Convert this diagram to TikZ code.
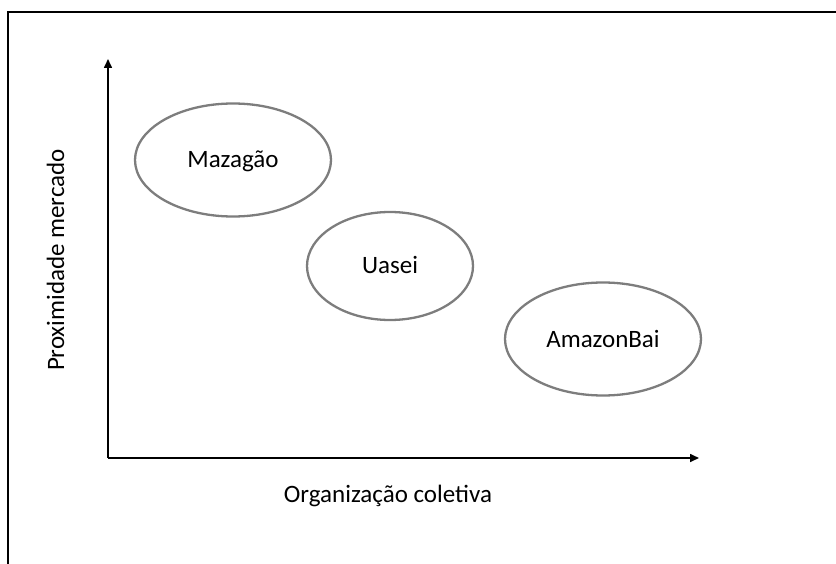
\documentclass[tikz,border=0pt]{standalone}
\usepackage{fontspec}
\setmainfont{Carlito}
\usetikzlibrary{shapes.geometric,arrows.meta}
\definecolor{ellgray}{RGB}{125,125,125}
\begin{document}
\begin{tikzpicture}[x=1pt,y=-1pt,
  frame/.style={line width=1.8pt,black},
  axis/.style={line width=1.6pt,black,-{Triangle[length=9pt,width=8pt]}},
  blob/.style={ellipse,draw=ellgray,line width=2.3pt,minimum width=196pt,minimum height=113pt,inner sep=0pt,
    text height=16pt,text depth=0pt,font=\fontsize{25}{30}\selectfont},
  axlabel/.style={inner sep=0pt,anchor=base,font=\fontsize{25}{30}\selectfont}]
\useasboundingbox (0,0) rectangle (836,564);
\draw[frame] (8,565) -- (8,12) -- (837,12);
\coordinate (o) at (108,458);
\coordinate (ytip) at (108,59);
\coordinate (xtip) at (699,458);
\draw[axis] (o) -- (ytip);
\draw[axis] (o) -- (xtip);
\node[blob] (maz) at (233,160) {Mazagão};
\node[blob,minimum width=166pt,minimum height=108pt] (uas) at (390,266) {Uasei};
\node[blob] (ama) at (603,339) {AmazonBai};
\node[axlabel] (xl) at (388,502) {Organização coletiva};
\node[axlabel,rotate=90] (yl) at (64,260) {Proximidade mercado};
\end{tikzpicture}
\end{document}
